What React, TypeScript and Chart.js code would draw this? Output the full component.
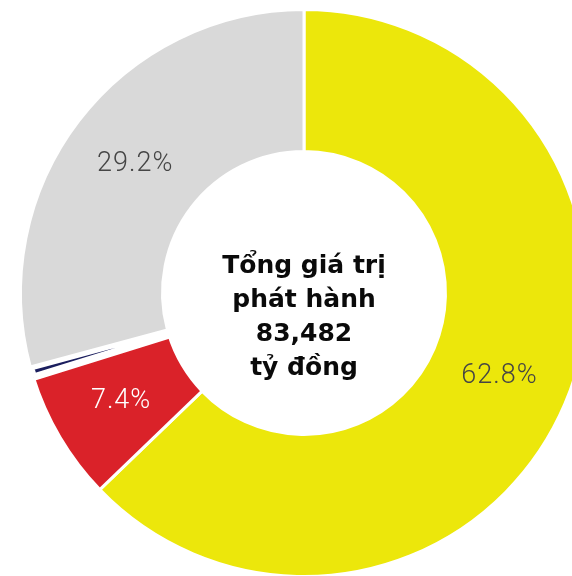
import React, { useEffect, useRef } from "react";
import { Chart, registerables } from "chart.js";

Chart.register(...registerables);

const categories = ["Nhóm A", "Nhóm B", "Nhóm C", "Nhóm D"];
const shares = [62.8, 7.4, 0.6, 29.2];
const sliceColors = ["#ECE70B", "#DA2229", "#1B1E5E", "#D9D9D9"];
const labelColors = ["#454545", "#FFFFFF", "", "#454545"];
const showLabel = [true, true, false, true];
const centerLines = ["Tổng giá trị", "phát hành", "83,482", "tỷ đồng"];

const sliceLabels = {
  id: "sliceLabels",
  afterDatasetsDraw(chart: any) {
    const ctx = chart.ctx;
    const meta = chart.getDatasetMeta(0);
    ctx.save();
    ctx.font = "300 27px Roboto";
    try {
      (ctx as any).letterSpacing = "1px";
    } catch (e) {}
    ctx.textAlign = "center";
    ctx.textBaseline = "middle";
    meta.data.forEach((arc: any, i: number) => {
      if (!showLabel[i]) return;
      const p = arc.getCenterPoint();
      ctx.fillStyle = labelColors[i];
      ctx.fillText(shares[i].toFixed(1) + "%", p.x, p.y);
    });
    ctx.restore();
  },
};

const centerText = {
  id: "centerText",
  afterDraw(chart: any) {
    const ctx = chart.ctx;
    const meta = chart.getDatasetMeta(0);
    const arc = meta.data[0];
    if (!arc) return;
    const cx = arc.x;
    const cy = arc.y;
    ctx.save();
    ctx.font = "700 25px 'DejaVu Sans'";
    ctx.fillStyle = "#0A0A0A";
    ctx.textAlign = "center";
    ctx.textBaseline = "alphabetic";
    centerLines.forEach((line, i) => {
      ctx.fillText(line, cx, cy - 20 + i * 34);
    });
    ctx.restore();
  },
};

export default function App() {
  const ref = useRef<HTMLCanvasElement | null>(null);
  useEffect(() => {
    if (!ref.current) return;
    const chart = new Chart(ref.current, {
      type: "doughnut",
      data: {
        labels: categories,
        datasets: [
          {
            data: shares,
            backgroundColor: sliceColors,
            borderColor: "#FFFFFF",
            borderWidth: shares.map((_, i) => (i === 2 ? 7.5 : 3)),
            hoverOffset: 0,
          },
        ],
      },
      options: {
        responsive: false,
        animation: false,
        radius: 283.5,
        cutout: "49.9%",
        layout: { padding: 0 },
        plugins: {
          legend: { display: false },
          tooltip: { enabled: false },
        },
        events: [],
      },
      plugins: [sliceLabels, centerText],
    });
    return () => chart.destroy();
  }, []);
  return (
    <div
      style={{
        position: "fixed",
        left: 0,
        top: 0,
        width: 572,
        height: 576,
        overflow: "hidden",
        background: "#FFFFFF",
      }}
    >
      <canvas
        ref={ref}
        width={608}
        height={586}
        style={{ display: "block", width: 608, height: 586 }}
      />
    </div>
  );
}
